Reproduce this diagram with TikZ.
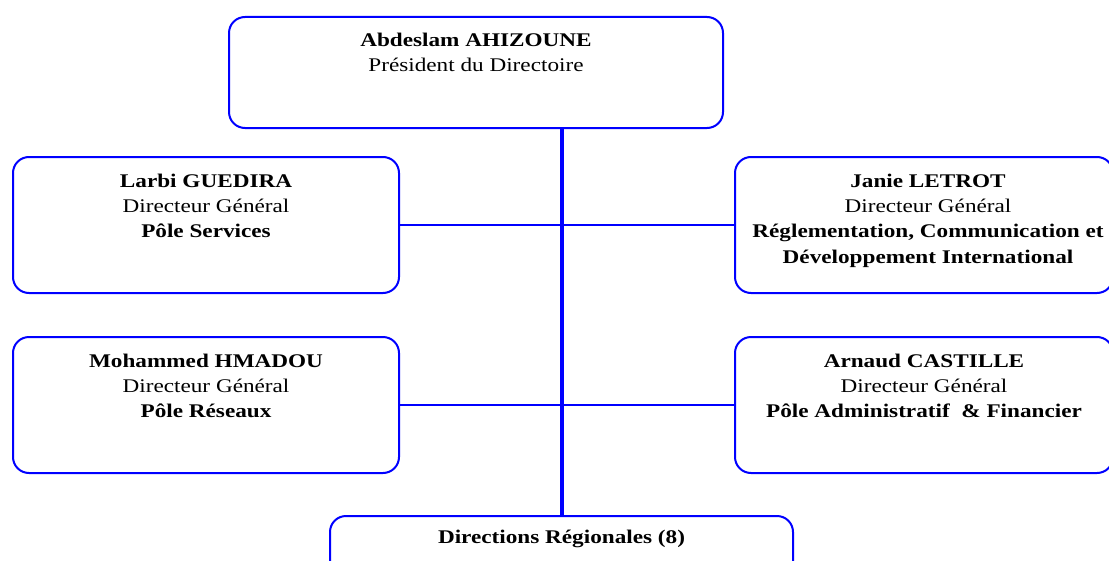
\documentclass[tikz,border=0pt]{standalone}
\usepackage{graphicx}
\usepackage{fontspec}
\setmainfont{Liberation Serif}
\newcommand\orgtext[1]{\scalebox{1.2}[1]{\begin{tabular}{@{}c@{}}#1\end{tabular}}}
\begin{document}
\begin{tikzpicture}[x=0.75pt,y=-0.75pt,
  box/.style={draw=blue,line width=1.5pt,rounded corners=12pt,fill=white},
  txt/.style={anchor=north,inner sep=0pt,font=\fontsize{14.5pt}{19pt}\selectfont},
  conn/.style={draw=blue,line width=2.2pt},
  vconn/.style={draw=blue,line width=3pt}]
\useasboundingbox (0,0) rectangle (1109,560);
\clip (0,0) rectangle (1109,560);
% boxes
\node[box,minimum width=494*0.75pt,minimum height=111*0.75pt] (top) at (476,72.5) {};
\node[box,minimum width=386*0.75pt,minimum height=136*0.75pt] (l1) at (206,225) {};
\node[box,minimum width=386*0.75pt,minimum height=136*0.75pt] (l2) at (206,405) {};
\node[box,minimum width=378*0.75pt,minimum height=136*0.75pt] (r1) at (924,225) {};
\node[box,minimum width=378*0.75pt,minimum height=136*0.75pt] (r2) at (924,405) {};
\node[box,minimum width=463*0.75pt,minimum height=100*0.75pt] (bot) at (561.5,566) {};
% connectors
\draw[vconn] (bot.north |- top.south) -- (bot.north);
\draw[conn] (l1.east) -- (r1.west);
\draw[conn] (l2.east) -- (r2.west);
% texts
\node[txt] (ttop) at (476,28.5) {\orgtext{\textbf{Abdeslam AHIZOUNE}\\Président du Directoire}};
\node[txt] (tl1) at (206,169) {\orgtext{\textbf{Larbi GUEDIRA}\\Directeur Général\\\textbf{Pôle Services}}};
\node[txt] (tl2) at (206,349) {\orgtext{\textbf{Mohammed HMADOU}\\Directeur Général\\\textbf{Pôle Réseaux}}};
\node[txt] (tr1) at (928,169) {\orgtext{\textbf{Janie LETROT}\\Directeur Général\\\textbf{Réglementation, Communication et}\\\textbf{Développement International}}};
\node[txt] (tr2) at (924,349) {\orgtext{\textbf{Arnaud CASTILLE}\\Directeur Général\\\textbf{Pôle Administratif~ \& Financier}}};
\node[txt] (tbot) at (561.5,525) {\orgtext{\textbf{Directions Régionales (8)}}};
\end{tikzpicture}
\end{document}
